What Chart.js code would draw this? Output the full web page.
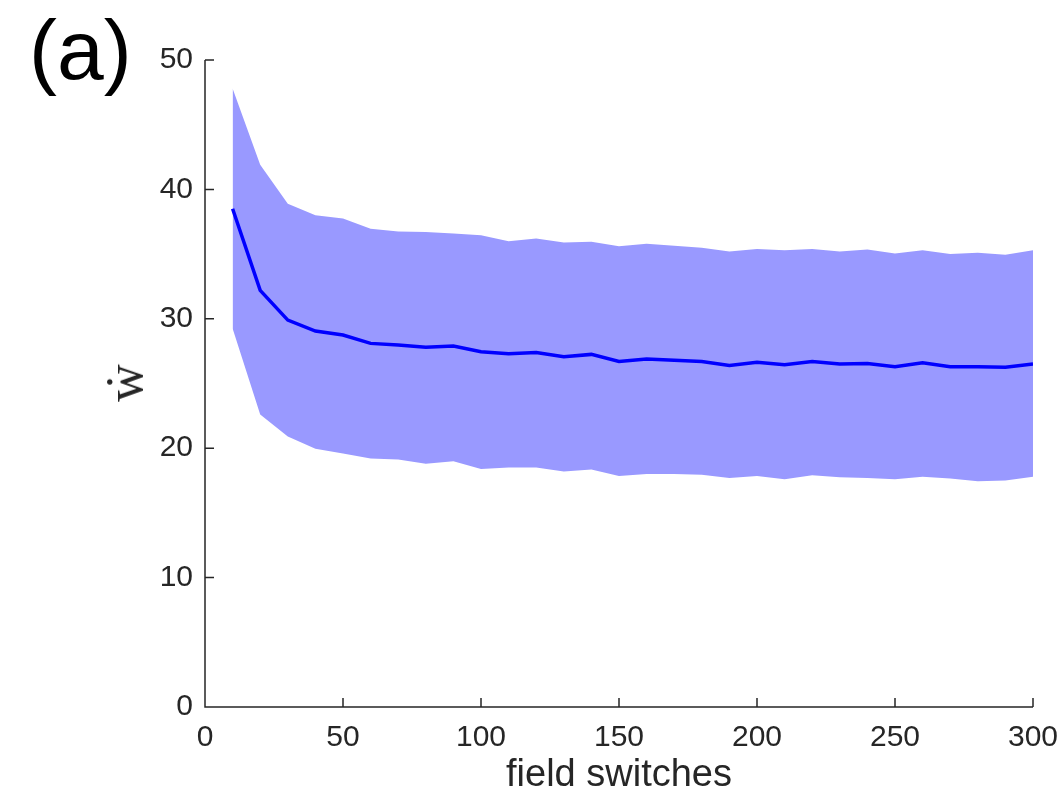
<!DOCTYPE html>
<html>
<head>
<meta charset="utf-8">
<script src="https://cdn.jsdelivr.net/npm/chart.js@4"></script>
<style>
  html, body { margin: 0; padding: 0; background: #fff; }
  #wrap { position: relative; width: 1061px; height: 798px; }
  #ylab {
    position: absolute; left: 125px; top: 383px;
    font: 52px 'Liberation Serif', 'DejaVu Serif', serif;
    line-height: 1; color: #262626; white-space: nowrap;
    transform: translate(-50%, -50%) rotate(-90deg);
  }
</style>
</head>
<body>
<div id="wrap">
  <canvas id="wChart" width="1061" height="798"></canvas>
  <div id="ylab">ẇ</div>
</div>
<script>
var switches = [10, 20, 30, 40, 50, 60, 70, 80, 90, 100, 110, 120, 130, 140, 150,
                160, 170, 180, 190, 200, 210, 220, 230, 240, 250, 260, 270, 280, 290, 300];
var meanVals = [38.5, 32.2, 29.9, 29.05, 28.75, 28.1, 27.97, 27.8, 27.9, 27.45,
                27.3, 27.4, 27.07, 27.25, 26.7, 26.9, 26.8, 26.7, 26.4, 26.65,
                26.45, 26.7, 26.5, 26.55, 26.3, 26.6, 26.3, 26.3, 26.25, 26.5];
var upperVals = [47.8, 41.9, 38.9, 38.0, 37.75, 36.96, 36.75, 36.7, 36.6, 36.45,
                 36.0, 36.2, 35.9, 35.95, 35.6, 35.8, 35.65, 35.5, 35.2, 35.4,
                 35.3, 35.4, 35.2, 35.35, 35.05, 35.3, 35.0, 35.1, 34.95, 35.3];
var lowerVals = [29.25, 22.6, 20.9, 19.95, 19.6, 19.2, 19.13, 18.8, 19.0, 18.4,
                 18.5, 18.5, 18.2, 18.35, 17.85, 18.0, 18.0, 17.95, 17.7, 17.85,
                 17.6, 17.9, 17.75, 17.7, 17.6, 17.8, 17.65, 17.45, 17.5, 17.8];
var xTicks = [0, 50, 100, 150, 200, 250, 300];
var yTicks = [0, 10, 20, 30, 40, 50];

function pts(vals) {
    return switches.map(function (x, i) { return { x: x, y: vals[i] }; });
}

var axisColor = '#262626';
var sans = "'Liberation Sans', Arial, Helvetica, sans-serif";

// matlab style axes: left + bottom lines, ticks pointing inwards
var matlabAxes = {
    id: 'matlabAxes',
    afterDraw: function (chart) {
        var ctx = chart.ctx, a = chart.chartArea;
        var xs = chart.scales.x, ys = chart.scales.y;
        ctx.save();
        ctx.strokeStyle = axisColor;
        ctx.lineWidth = 1.5;
        ctx.beginPath();
        ctx.moveTo(a.left, a.top);
        ctx.lineTo(a.left, a.bottom);
        ctx.lineTo(a.right, a.bottom);
        xTicks.forEach(function (v) {
            var px = xs.getPixelForValue(v);
            ctx.moveTo(px, a.bottom);
            ctx.lineTo(px, a.bottom - 9);
        });
        yTicks.forEach(function (v) {
            var py = ys.getPixelForValue(v);
            ctx.moveTo(a.left, py);
            ctx.lineTo(a.left + 9, py);
        });
        ctx.stroke();

        // panel letter
        ctx.fillStyle = '#000';
        ctx.font = '84px ' + sans;
        ctx.textBaseline = 'alphabetic';
        ctx.textAlign = 'left';
        ctx.fillText('(a)', 29, 79);
        ctx.restore();
    }
};

new Chart(document.getElementById('wChart').getContext('2d'), {
    type: 'line',
    data: {
        datasets: [
            {
                label: 'mean',
                data: pts(meanVals),
                borderColor: '#0000ff',
                borderWidth: 3.5,
                pointRadius: 0,
                fill: false,
                tension: 0
            },
            {
                label: 'upper',
                data: pts(upperVals),
                borderWidth: 0,
                borderColor: 'rgba(0,0,0,0)',
                backgroundColor: '#9999ff',
                pointRadius: 0,
                fill: '+1',
                tension: 0
            },
            {
                label: 'lower',
                data: pts(lowerVals),
                borderWidth: 0,
                borderColor: 'rgba(0,0,0,0)',
                pointRadius: 0,
                fill: false,
                tension: 0
            }
        ]
    },
    options: {
        responsive: false,
        animation: false,
        devicePixelRatio: 1,
        layout: { padding: { top: 60, right: 28, left: 0, bottom: 0 } },
        plugins: {
            legend: { display: false },
            tooltip: { enabled: false }
        },
        scales: {
            x: {
                type: 'linear',
                min: 0,
                max: 300,
                afterFit: function (s) { s.height = 91; s.paddingLeft = 0; s.paddingRight = 0; },
                afterBuildTicks: function (s) { s.ticks = xTicks.map(function (v) { return { value: v }; }); },
                grid: { display: false, drawTicks: false },
                border: { display: false },
                ticks: { color: axisColor, padding: 13, font: { family: sans, size: 30 } },
                title: {
                    display: true,
                    text: 'field switches',
                    color: axisColor,
                    padding: { top: 0, bottom: 0 },
                    font: { family: sans, size: 38 }
                }
            },
            y: {
                min: 0,
                max: 50,
                afterFit: function (s) { s.width = 205; s.paddingTop = 0; s.paddingBottom = 0; },
                afterBuildTicks: function (s) { s.ticks = yTicks.map(function (v) { return { value: v }; }); },
                grid: { display: false, drawTicks: false },
                border: { display: false },
                ticks: { color: axisColor, padding: 12, font: { family: sans, size: 30 } }
            }
        }
    },
    plugins: [matlabAxes]
});
</script>
</body>
</html>
